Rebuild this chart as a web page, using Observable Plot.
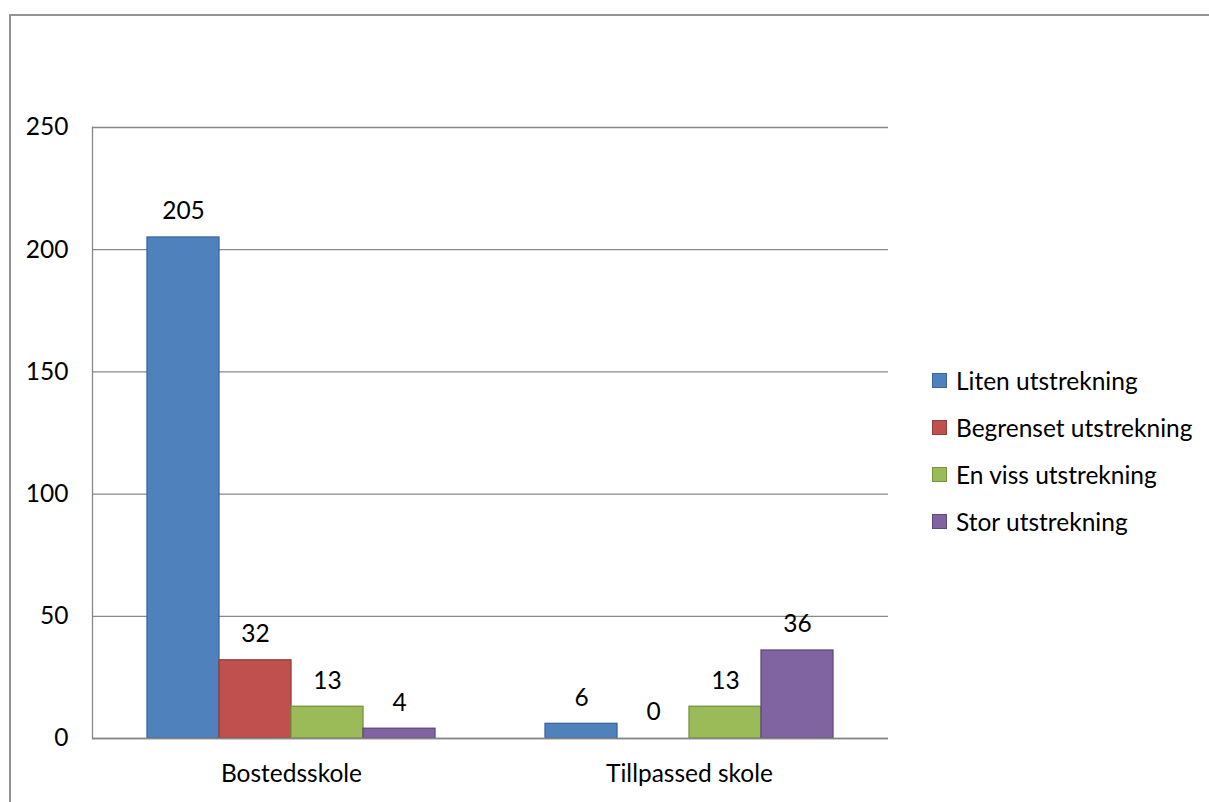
<!DOCTYPE html>
<html>
<head>
<meta charset="utf-8">
<script src="https://cdn.jsdelivr.net/npm/d3@7"></script>
<script src="https://cdn.jsdelivr.net/npm/@observablehq/plot@0.6"></script>
<style>
  html, body { margin: 0; padding: 0; background: #fff; overflow: hidden; }
  #chart { position: relative; width: 1209px; height: 802px; font-family: Lato, "Open Sans", sans-serif; }
  #border { position: absolute; left: 9px; top: 14px; width: 1400px; height: 1000px; border: 2px solid #949494; box-sizing: border-box; pointer-events: none; }
  #legend { position: absolute; left: 932px; top: 357px; font-size: 24.5px; color: #000; }
  #legend .item { display: flex; align-items: center; height: 47px; }
  #legend .sw { width: 13px; height: 13px; border: 1px solid; margin-right: 9px; }
  #plot { position: absolute; left: 0; top: 0; }
</style>
</head>
<body>
<div id="chart">
  <div id="border"></div>
  <div id="plot"></div>
  <div id="legend"></div>
</div>
<script>
// Categories, series and values
const categories = ["Bostedsskole", "Tillpassed skole"];
const series = ["Liten utstrekning", "Begrenset utstrekning", "En viss utstrekning", "Stor utstrekning"];
const bostedsskole = [205, 32, 13, 4];
const tillpassedSkole = [6, 0, 13, 36];
const yTicks = [0, 50, 100, 150, 200, 250];

// Series colours (fill and darker outline)
const fills = ["#4F81BD", "#C0504D", "#9BBB59", "#8064A2"];
const outlines = ["#3A679C", "#93403D", "#77913F", "#604A7B"];

const valuesByCategory = [bostedsskole, tillpassedSkole];
const rows = categories.flatMap((c, ci) =>
  series.map((s, si) => ({category: c, series: s, value: valuesByCategory[ci][si], si}))
);

const gridColor = "#888888";

const chart = Plot.plot({
  width: 1209,
  height: 802,
  marginLeft: 92,
  marginRight: 321,
  marginTop: 127,
  marginBottom: 64,
  style: {fontFamily: "Lato, 'Open Sans', sans-serif", fontSize: "24.5px", color: "#000", background: "transparent"},
  fx: {domain: categories, padding: 0, label: null, axis: "bottom", tickSize: 0, tickPadding: 26},
  x: {domain: series, paddingInner: 0, paddingOuter: 0.745, axis: null},
  y: {domain: [0, 250], ticks: yTicks, tickSize: 0, tickPadding: 24, label: null},
  marks: [
    Plot.gridY(yTicks, {stroke: gridColor, strokeOpacity: 1, strokeWidth: 1.3}),
    Plot.barY(rows, {
      fx: "category", x: "series", y: "value",
      fill: d => fills[d.si], stroke: d => outlines[d.si], strokeWidth: 1.3
    }),
    Plot.text(rows, {fx: "category", x: "series", y: "value", text: d => String(d.value), dy: -26, fill: "#000"}),
    Plot.frame({anchor: "left", facet: "super", stroke: gridColor, strokeWidth: 1.3}),
    Plot.ruleY([0], {stroke: gridColor, strokeWidth: 1.5})
  ]
});
document.getElementById("plot").append(chart);

// Legend
const legend = document.getElementById("legend");
series.forEach((s, i) => {
  const item = document.createElement("div");
  item.className = "item";
  const sw = document.createElement("span");
  sw.className = "sw";
  sw.style.background = fills[i];
  sw.style.borderColor = outlines[i];
  const label = document.createElement("span");
  label.textContent = s;
  item.append(sw, label);
  legend.append(item);
});
</script>
</body>
</html>
